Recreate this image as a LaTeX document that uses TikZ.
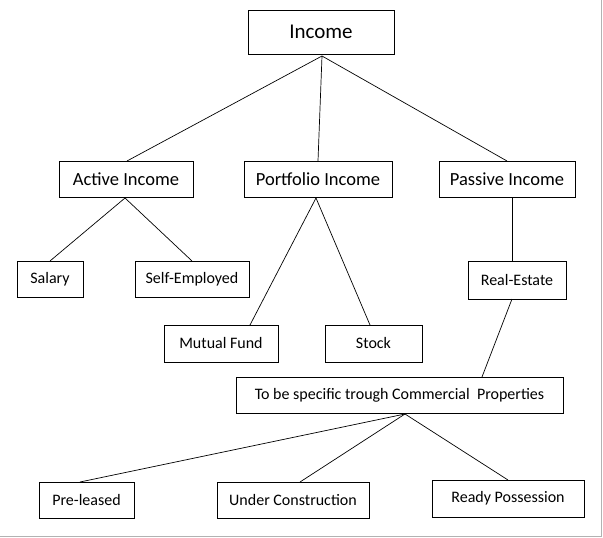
\documentclass[tikz,border=0pt]{standalone}
\usepackage{fontspec}
\setmainfont{Carlito}
\begin{document}
\begin{tikzpicture}[x=1pt,y=-1pt,
  bx/.style={draw,line width=0.8pt,inner sep=0pt},
  big/.style={font=\fontsize{21}{23}\selectfont},
  mid/.style={font=\fontsize{18.5}{20}\selectfont},
  sml/.style={font=\fontsize{16}{18}\selectfont},
  ln/.style={line width=0.7pt}]
\useasboundingbox (0,0) rectangle (603,538);
\fill[white] (0,0) rectangle (603,538);
\draw[gray!60] (601,0) -- (601,536) -- (0,536);
\node[bx,big,minimum width=146pt,minimum height=44pt] (inc) at (321,32) {Income};
\node[bx,mid,minimum width=134pt,minimum height=36pt] (act) at (126,179) {Active Income};
\node[bx,mid,minimum width=148pt,minimum height=36pt] (por) at (318,179) {Portfolio Income};
\node[bx,mid,minimum width=136pt,minimum height=36pt] (pas) at (507,179) {Passive Income};
\node[bx,sml,minimum width=66pt,minimum height=36pt] (sal) at (50,279) {Salary};
\node[bx,sml,minimum width=114pt,minimum height=36pt] (self) at (192,279) {Self-Employed};
\node[bx,sml,minimum width=98pt,minimum height=38pt] (re) at (517,280) {Real-Estate};
\node[bx,sml,minimum width=114pt,minimum height=37pt] (mf) at (221,343.5) {Mutual Fund};
\node[bx,sml,minimum width=97pt,minimum height=37pt] (st) at (373.5,343.5) {Stock};
\node[bx,sml,minimum width=327pt,minimum height=36pt] (com) at (399.5,395) {To be specific trough Commercial~~Properties};
\node[bx,sml,minimum width=95pt,minimum height=36pt] (pre) at (86.5,500) {Pre-leased};
\node[bx,sml,minimum width=152pt,minimum height=36pt] (uc) at (293,500) {Under Construction};
\node[bx,sml,minimum width=152pt,minimum height=37pt] (rp) at (508,498.5) {Ready Possession};
\coordinate (incb) at (322,56);
\draw[ln] (incb) -- (127,161);
\draw[ln] (incb) -- (318,161);
\draw[ln] (incb) -- (507,161);
\coordinate (actb) at (125,198);
\draw[ln] (actb) -- (50,261);
\draw[ln] (actb) -- (192,261);
\coordinate (porb) at (316,198);
\draw[ln] (porb) -- (250,325);
\draw[ln] (porb) -- (370,325);
\draw[ln] (512,198) -- (512,261);
\draw[ln] (512,299) -- (482,377);
\coordinate (comb) at (405,414);
\draw[ln] (comb) -- (80,482);
\draw[ln] (comb) -- (300,482);
\draw[ln] (comb) -- (508,480);
\end{tikzpicture}
\end{document}
